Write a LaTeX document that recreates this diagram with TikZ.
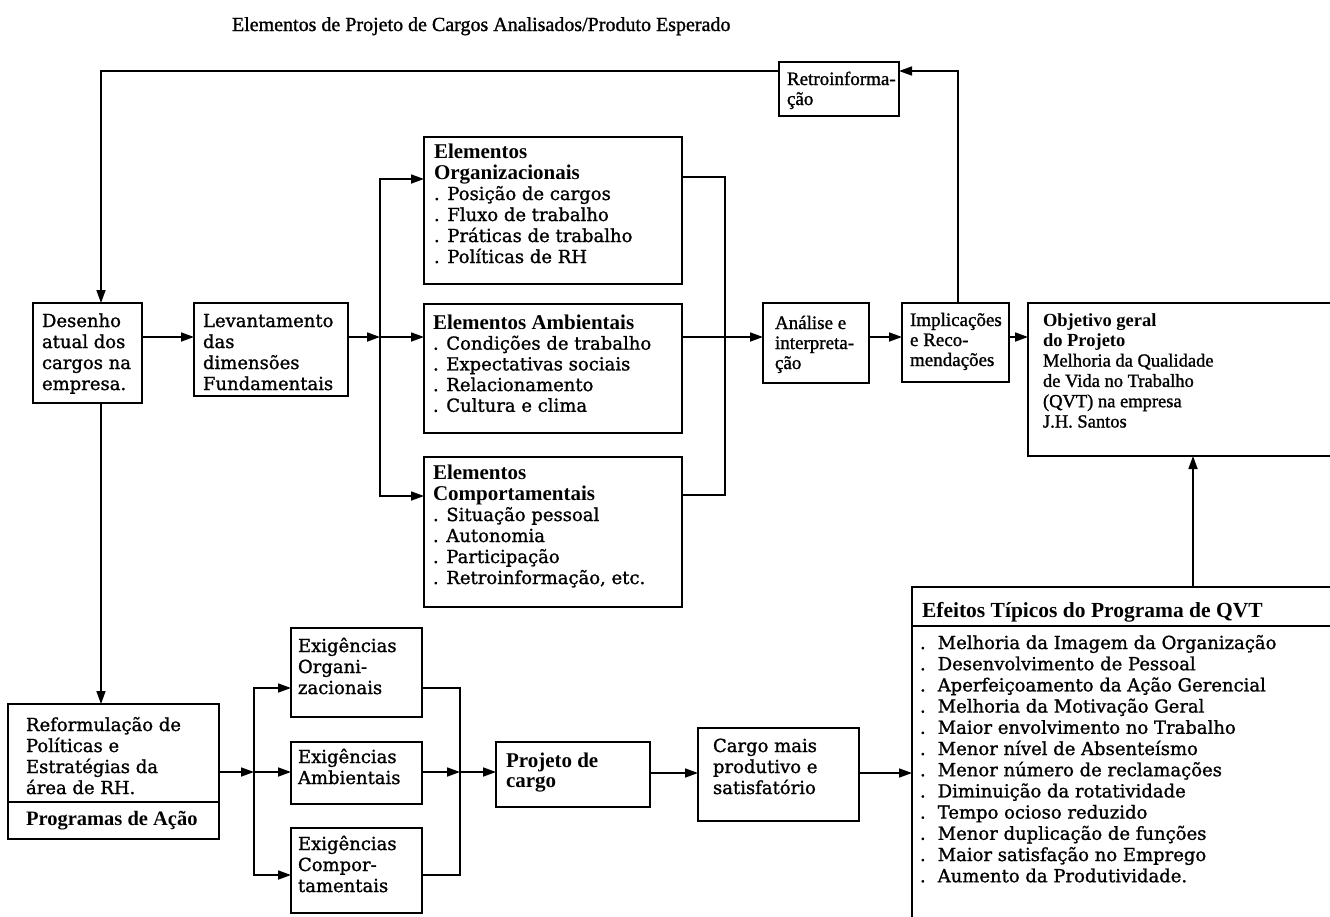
\documentclass[tikz,border=0pt]{standalone}
\usepackage{fontspec}
\setmainfont{DejaVu Serif}[FakeBold=1.2]
\newfontfamily\tms{Liberation Serif}[FakeBold=1.2]
\newfontfamily\tmsb{Liberation Serif Bold}
\usetikzlibrary{arrows.meta,fit}
\newcommand\tb[3]{{\fontsize{#1}{#2}\selectfont\begin{tabular}[t]{@{}l@{}}#3\end{tabular}}}
\newcommand\hd{\tmsb\fontsize{21}{21}\selectfont}
\newcommand\itm{.\hspace{12pt}}
\begin{document}
\begin{tikzpicture}[x=1pt,y=-1pt,
  bx/.style={draw, line width=1.9pt, inner sep=0pt, outer sep=0pt},
  lbl/.style={anchor=base west, inner sep=0pt, outer sep=0pt},
  ln/.style={line width=1.7pt},
  arr/.style={ln, -{Triangle[length=13pt,width=9pt]}}]
\useasboundingbox (0,0) rectangle (1330,916);
\clip (0,0) rectangle (1330,916);
% boxes
\node[bx, fit={(33,303) (142,403)}] (desenho) {};
\node[bx, fit={(194,303) (348,396)}] (lev) {};
\node[bx, fit={(424,137) (682,284)}] (elorg) {};
\node[bx, fit={(424,304) (682,433)}] (elamb) {};
\node[bx, fit={(424,457) (682,607)}] (elcomp) {};
\node[bx, fit={(779,62) (899,116)}] (retro) {};
\node[bx, fit={(763,303) (869,383)}] (analise) {};
\node[bx, fit={(902,303) (1009,382)}] (impl) {};
\node[bx, fit={(1028,303) (1345,456)}] (obj) {};
\node[bx, fit={(912,587) (1345,935)}] (efeitos) {};
\node[bx, fit={(8,704) (219,839)}] (reform) {};
\node[bx, fit={(291,628) (422,717)}] (exorg) {};
\node[bx, fit={(291,742) (422,804)}] (examb) {};
\node[bx, fit={(291,828) (422,913)}] (excomp) {};
\node[bx, fit={(496,742) (650,807)}] (projeto) {};
\node[bx, fit={(698,728) (859,821)}] (cargo) {};
% separators
\coordinate (sepR) at (0,802);
\coordinate (sepE) at (0,626);
\draw[line width=1.9pt] (reform.west |- sepR) -- (reform.east |- sepR);
\draw[line width=1.9pt] (efeitos.west |- sepE) -- (efeitos.east |- sepE);
% texts
\node[lbl, font=\tms\fontsize{20}{24}\selectfont] (title) at (232,31) {Elementos de Projeto de Cargos Analisados/Produto Esperado};
\node[lbl] (desenho-t) at (42,327) {\tb{18}{21}{Desenho\\atual dos\\cargos na\\empresa.}};
\node[lbl] (lev-t) at (203,327) {\tb{18}{21}{Levantamento\\das\\dimensões\\Fundamentais}};
\node[lbl] (elorg-t) at (434,158) {\tb{18}{21}{{\hd Elementos}\\{\hd Organizacionais}\\. Posição de cargos\\. Fluxo de trabalho\\. Práticas de trabalho\\. Políticas de RH}};
\node[lbl] (elamb-t) at (433,329) {\tb{18}{20.7}{{\hd Elementos Ambientais}\\. Condições de trabalho\\. Expectativas sociais\\. Relacionamento\\. Cultura e clima}};
\node[lbl] (elcomp-t) at (433,479) {\tb{18}{21}{{\hd Elementos}\\{\hd Comportamentais}\\. Situação pessoal\\. Autonomia\\. Participação\\. Retroinformação, etc.}};
\node[lbl, font=\tms] (retro-t) at (787,85) {\tb{19}{20}{Retroinforma-\\ção}};
\node[lbl, font=\tms] (analise-t) at (775,329) {\tb{19}{20}{Análise e\\interpreta-\\ção}};
\node[lbl, font=\tms] (impl-t) at (910,326) {\tb{19}{20}{Implicações\\e Reco-\\mendações}};
\node[lbl, font=\tms] (obj-t) at (1043,326) {\tb{18.5}{20.3}{{\tmsb Objetivo geral}\\{\tmsb do Projeto}\\Melhoria da Qualidade\\de Vida no Trabalho\\(QVT) na empresa\\J.H. Santos}};
\node[lbl] (reform-t) at (26,731) {\tb{18}{21}{Reformulação de\\Políticas e\\Estratégias da\\área de RH.}};
\node[lbl, font=\tmsb\fontsize{20.5}{24}\selectfont] (prog-t) at (26,825) {Programas de Ação};
\node[lbl] (exorg-t) at (298,652) {\tb{18}{21}{Exigências\\Organi-\\zacionais}};
\node[lbl] (examb-t) at (298,763) {\tb{18}{21}{Exigências\\Ambientais}};
\node[lbl] (excomp-t) at (298,850) {\tb{18}{21}{Exigências\\Compor-\\tamentais}};
\node[lbl, font=\tmsb] (projeto-t) at (506,767) {\tb{21}{20}{Projeto de\\cargo}};
\node[lbl] (cargo-t) at (713,752) {\tb{18}{21}{Cargo mais\\produtivo e\\satisfatório}};
\node[lbl, font=\tmsb\fontsize{21.5}{24}\selectfont] (efhead-t) at (922,617) {Efeitos Típicos do Programa de QVT};
\node[lbl] (eflist-t) at (920,649) {\tb{18}{21.2}{\itm Melhoria da Imagem da Organização\\\itm Desenvolvimento de Pessoal\\\itm Aperfeiçoamento da Ação Gerencial\\\itm Melhoria da Motivação Geral\\\itm Maior envolvimento no Trabalho\\\itm Menor nível de Absenteísmo\\\itm Menor número de reclamações\\\itm Diminuição da rotatividade\\\itm Tempo ocioso reduzido\\\itm Menor duplicação de funções\\\itm Maior satisfação no Emprego\\\itm Aumento da Produtividade.}};
% coordinates
\coordinate (fbL) at (101,71);
\coordinate (fbR) at (958,71);
\coordinate (yA) at (0,337);
\coordinate (j1) at (380,337);
\coordinate (j1t) at (380,179);
\coordinate (j1b) at (380,496);
\coordinate (j2) at (725,337);
\coordinate (j2t) at (725,177);
\coordinate (j2b) at (725,495);
\coordinate (xE) at (1193,0);
\coordinate (j3) at (254,772);
\coordinate (j3t) at (254,688);
\coordinate (j3b) at (254,875);
\coordinate (j4) at (460,772);
\coordinate (j4t) at (460,688);
\coordinate (j4b) at (460,875);
\coordinate (yB) at (0,773);
% connectors
\draw[arr] (impl.north -| fbR) -- (fbR) -- (retro.east |- fbR);
\draw[arr] (retro.west |- fbL) -- (fbL) -- (desenho.north -| fbL);
\draw[arr] (desenho.south -| fbL) -- (reform.north -| fbL);
\draw[arr] (desenho.east |- yA) -- (lev.west |- yA);
\draw[arr] (lev.east |- j1) -- (j1);
\draw[arr] (j1) -- (elamb.west |- j1);
\draw[arr] (j1) -- (j1t) -- (elorg.west |- j1t);
\draw[arr] (j1) -- (j1b) -- (elcomp.west |- j1b);
\draw[ln] (elorg.east |- j2t) -- (j2t) -- (j2b) -- (elcomp.east |- j2b);
\draw[ln] (elamb.east |- j2) -- (j2);
\draw[arr] (j2) -- (analise.west |- j2);
\draw[arr] (analise.east |- yA) -- (impl.west |- yA);
\draw[arr] (impl.east |- yA) -- (obj.west |- yA);
\draw[arr] (efeitos.north -| xE) -- (obj.south -| xE);
\draw[arr] (reform.east |- j3) -- (j3);
\draw[arr] (j3) -- (examb.west |- j3);
\draw[arr] (j3) -- (j3t) -- (exorg.west |- j3t);
\draw[arr] (j3) -- (j3b) -- (excomp.west |- j3b);
\draw[ln] (exorg.east |- j4t) -- (j4t) -- (j4b) -- (excomp.east |- j4b);
\draw[arr] (examb.east |- j4) -- (j4);
\draw[arr] (j4) -- (projeto.west |- j4);
\draw[arr] (projeto.east |- yB) -- (cargo.west |- yB);
\draw[arr] (cargo.east |- yB) -- (efeitos.west |- yB);
\end{tikzpicture}
\end{document}
